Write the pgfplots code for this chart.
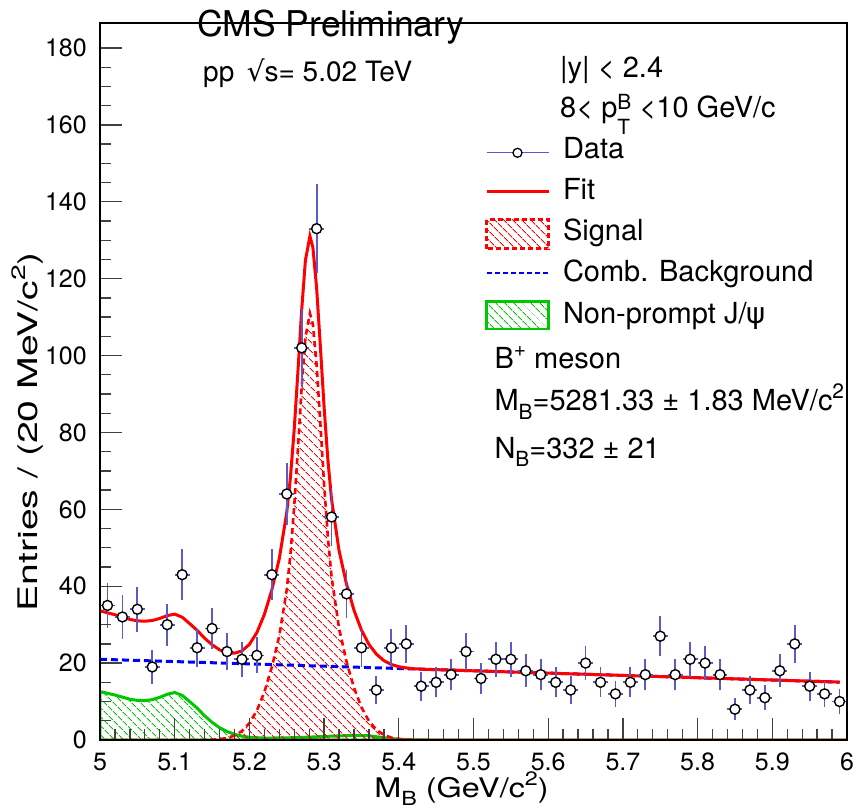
\documentclass[border=0pt]{standalone}
\usepackage{fontspec}
\setmainfont{TeX Gyre Heros}
\newfontfamily\dejavu{DejaVu Sans}
\usepackage{graphicx}
\usepackage{pgfplots}
\pgfplotsset{compat=1.18}
\usetikzlibrary{patterns.meta}
\definecolor{datablue}{RGB}{90,90,200}
\definecolor{rootgreen}{RGB}{0,200,0}
\definecolor{rootred}{RGB}{255,0,0}
\definecolor{rootblue}{RGB}{0,0,255}
\newcommand\sups[2][0.42em]{\raisebox{#1}{\scalebox{0.72}{#2}}}
\newcommand\subs[2][-0.3em]{\raisebox{#1}{\scalebox{0.72}{#2}}}

\pgfplotstableread{
x y ey
5.01 35 5.92
5.03 32 5.66
5.05 34 5.83
5.07 19 4.36
5.09 30 5.48
5.11 43 6.56
5.13 24 4.90
5.15 29 5.39
5.17 23 4.80
5.19 21 4.58
5.21 22 4.69
5.23 43 6.56
5.25 64 8.00
5.27 102 10.10
5.29 133 11.53
5.31 58 7.62
5.33 38 6.16
5.35 24 4.90
5.37 13 3.61
5.39 24 4.90
5.41 25 5.00
5.43 14 3.74
5.45 15 3.87
5.47 17 4.12
5.49 23 4.80
5.51 16 4.00
5.53 21 4.58
5.55 21 4.58
5.57 18 4.24
5.59 17 4.12
5.61 15 3.87
5.63 13 3.61
5.65 20 4.47
5.67 15 3.87
5.69 12 3.46
5.71 15 3.87
5.73 17 4.12
5.75 27 5.20
5.77 17 4.12
5.79 21 4.58
5.81 20 4.47
5.83 17 4.12
5.85 8 2.83
5.87 13 3.61
5.89 11 3.32
5.91 18 4.24
5.93 25 5.00
5.95 14 3.74
5.97 12 3.46
5.99 10 3.16
}\datatable

\pgfplotstableread{
x y
5.00 0
5.13 0.01
5.15 0.09
5.16 0.22
5.17 0.52
5.18 1.15
5.19 2.32
5.20 4.37
5.21 7.66
5.22 12.45
5.23 18.9
5.24 27.1
5.25 39.1
5.255 48.4
5.26 60.8
5.265 75.9
5.27 91.8
5.275 104.7
5.281 111.0
5.285 108.1
5.29 97.5
5.295 82.3
5.30 66.5
5.305 52.9
5.31 42.4
5.32 29.1
5.33 20.4
5.34 13.6
5.35 8.49
5.36 4.93
5.37 2.66
5.38 1.33
5.39 0.62
5.40 0.27
5.41 0.11
5.43 0
6.00 0
}\signaltable

\pgfplotstableread{
x y
5.00 12.6
5.01 12.15
5.02 11.7
5.03 11.15
5.04 10.6
5.05 10.3
5.06 10.25
5.07 10.5
5.08 11.1
5.09 11.9
5.10 12.35
5.11 11.6
5.12 10.0
5.13 8.3
5.14 6.3
5.15 4.6
5.16 3.2
5.17 2.2
5.18 1.5
5.19 1.0
5.20 0.7
5.22 0.5
5.25 0.55
5.28 0.75
5.31 1.0
5.34 1.2
5.36 1.1
5.38 0.6
5.40 0.2
5.42 0.05
5.44 0
6.00 0
}\nonprompttable

\pgfplotstableread{
x y
5.00 21.0
5.99 15.06
}\bkgtable

\pgfplotstableread{
x y
5.00 33.6
5.01 33.09
5.02 32.58
5.03 31.97
5.04 31.36
5.05 31.0
5.06 30.89
5.07 31.08
5.08 31.62
5.09 32.36
5.10 32.75
5.11 31.94
5.12 30.28
5.13 28.53
5.14 26.49
5.15 24.79
5.16 23.46
5.17 22.70
5.18 22.57
5.19 23.18
5.20 24.87
5.21 27.95
5.22 32.63
5.23 39.02
5.24 47.16
5.25 59.15
5.255 68.44
5.26 80.84
5.265 95.96
5.27 111.88
5.275 124.77
5.281 131.06
5.285 128.15
5.29 117.56
5.295 102.38
5.30 86.6
5.305 73.02
5.31 62.54
5.32 49.28
5.33 40.57
5.34 33.76
5.35 28.59
5.36 24.87
5.37 22.34
5.38 20.65
5.39 19.63
5.40 19.07
5.41 18.75
5.42 18.53
5.44 18.36
5.99 15.06
}\fittable

\begin{document}
\begin{tikzpicture}
\begin{axis}[
  scale only axis, width=747pt, height=717pt,
  xmin=5, xmax=6, ymin=0, ymax=186.5,
  xtick={5,5.1,5.2,5.3,5.4,5.5,5.6,5.7,5.8,5.9,6},
  ytick={0,20,40,60,80,100,120,140,160,180},
  minor x tick num=4, minor y tick num=3,
  xtick pos=left, ytick pos=left,
  tick align=inside,
  major tick length=22pt, minor tick length=11pt,
  every tick/.style={black!75, line width=1.3pt},
  axis line style={black, line width=1.6pt},
  tick label style={font=\fontsize{25}{30}\selectfont, inner sep=0pt},
  xticklabel style={yshift=-13pt},
  yticklabel style={xshift=-13pt},
  /pgf/number format/assume math mode=true,
  xlabel={\scalebox{1.2}[1]{M\subs{B} (GeV/c\sups{2})}},
  ylabel={\scalebox{1.45}[1]{Entries / (20 MeV/c\sups{2})}},
  xlabel style={at={(rel axis cs:0.484,-0.0795)}, anchor=base, inner sep=0pt, font=\fontsize{27}{30}\selectfont},
  ylabel style={at={(rel axis cs:-0.0843,0.43)}, anchor=base, inner sep=0pt, font=\fontsize{27}{30}\selectfont},
  axis on top,
  legend cell align=left,
  legend style={at={(rel axis cs:0.51539,0.8491)}, anchor=north west, draw=none, fill=none,
    inner sep=0pt, outer sep=0pt, font=\fontsize{29}{34}\selectfont, row sep=0pt,
    nodes={inner sep=0pt, text height=21pt, text depth=8pt},
    /tikz/every odd column/.append style={column sep=13pt}},
]
\addlegendimage{legend image code/.code={
  \path[draw=none, fill=none] (0pt,-20.6pt) rectangle (62pt,20.6pt);
  \draw[datablue, line width=1.2pt] (0pt,-1pt) -- (62pt,-1pt);
  \draw[black, line width=1.3pt, fill=white] (31pt,-1pt) circle (4.5pt);}}
\addlegendentry{Data}
\addlegendimage{legend image code/.code={
  \path[draw=none, fill=none] (0pt,-20.6pt) rectangle (62pt,20.6pt);
  \draw[rootred, line width=3pt] (0pt,1.2pt) -- (62pt,1.2pt);}}
\addlegendentry{Fit}
\addlegendimage{legend image code/.code={
  \path[draw=none, fill=none] (0pt,-20.6pt) rectangle (62pt,20.6pt);
  \draw[rootred, line width=2.5pt, dash pattern=on 5pt off 3pt,
    pattern={Lines[angle=-45,distance=6.5pt,line width=1pt]}, pattern color=rootred]
    (0pt,-14.5pt) rectangle (62pt,14.5pt);}}
\addlegendentry{Signal}
\addlegendimage{legend image code/.code={
  \path[draw=none, fill=none] (0pt,-20.6pt) rectangle (62pt,20.6pt);
  \draw[rootblue, line width=2.5pt, dash pattern=on 5pt off 3pt] (0pt,2.5pt) -- (62pt,2.5pt);}}
\addlegendentry{Comb. Background}
\addlegendimage{legend image code/.code={
  \path[draw=none, fill=none] (0pt,-20.6pt) rectangle (62pt,20.6pt);
  \draw[rootgreen, line width=2.5pt,
    pattern={Lines[angle=-45,distance=6.5pt,line width=1pt]}, pattern color=rootgreen]
    (0pt,-12.5pt) rectangle (62pt,15.1pt);}}
\addlegendentry{Non-prompt J/{\dejavu ψ}}

\addplot[rootgreen, line width=3pt, forget plot,
  pattern={Lines[angle=-45,distance=6.5pt,line width=1pt]}, pattern color=rootgreen]
  table[x=x,y=y] {\nonprompttable} \closedcycle;
\addplot[rootred, line width=2.6pt, dash pattern=on 6pt off 4pt, forget plot,
  pattern={Lines[angle=-45,distance=6.5pt,line width=1pt]}, pattern color=rootred]
  table[x=x,y=y] {\signaltable} \closedcycle;
\addplot[rootblue, line width=3pt, dash pattern=on 7pt off 4pt, forget plot]
  table[x=x,y=y] {\bkgtable};
\addplot[rootred, line width=3pt, forget plot]
  table[x=x,y=y] {\fittable};
\addplot[only marks, mark=*, mark size=5pt, forget plot,
  mark options={draw=black, fill=white, line width=1.4pt},
  error bars/.cd, x dir=both, x fixed=0.01, y dir=both, y explicit,
  error bar style={datablue, line width=1.8pt}, error mark=none]
  table[x=x, y=y, y error=ey] {\datatable};

\coordinate (ll) at (rel axis cs:0,0);
\coordinate (ur) at (rel axis cs:1,1);
\end{axis}

\node[anchor=base west, inner sep=0pt, font=\fontsize{35.5}{40}\selectfont] at ([shift={(97pt,703pt)}]ll) {CMS Preliminary};
\node[anchor=base west, inner sep=0pt, font=\fontsize{28}{32}\selectfont] at ([shift={(103pt,658pt)}]ll) {pp \,{\dejavu √}s= 5.02 TeV};
\node[anchor=base west, inner sep=0pt, font=\fontsize{29}{34}\selectfont] at ([shift={(460pt,662pt)}]ll) {|y| < 2.4};
\node[anchor=base west, inner sep=0pt, font=\fontsize{29}{34}\selectfont] at ([shift={(460pt,622pt)}]ll) {8< p\rlap{\raisebox{-17pt}{\scalebox{0.72}{T}}}\raisebox{8pt}{\scalebox{0.72}{B}} <10 GeV/c};
\node[anchor=base west, inner sep=0pt, font=\fontsize{29}{34}\selectfont] at ([shift={(394.3pt,371.7pt)}]ll) {B\sups{+} meson};
\node[anchor=base west, inner sep=0pt, font=\fontsize{29}{34}\selectfont] at ([shift={(394.3pt,329.3pt)}]ll) {M\subs{B}=5281.33 ± 1.83 MeV/c\sups{2}};
\node[anchor=base west, inner sep=0pt, font=\fontsize{29}{34}\selectfont] at ([shift={(394.3pt,281.7pt)}]ll) {N\subs{B}=332 ± 21};

\pgfresetboundingbox
\path[use as bounding box] ([shift={(-100pt,-68pt)}]ll) rectangle ([shift={(9pt,23pt)}]ur);
\end{tikzpicture}
\end{document}
